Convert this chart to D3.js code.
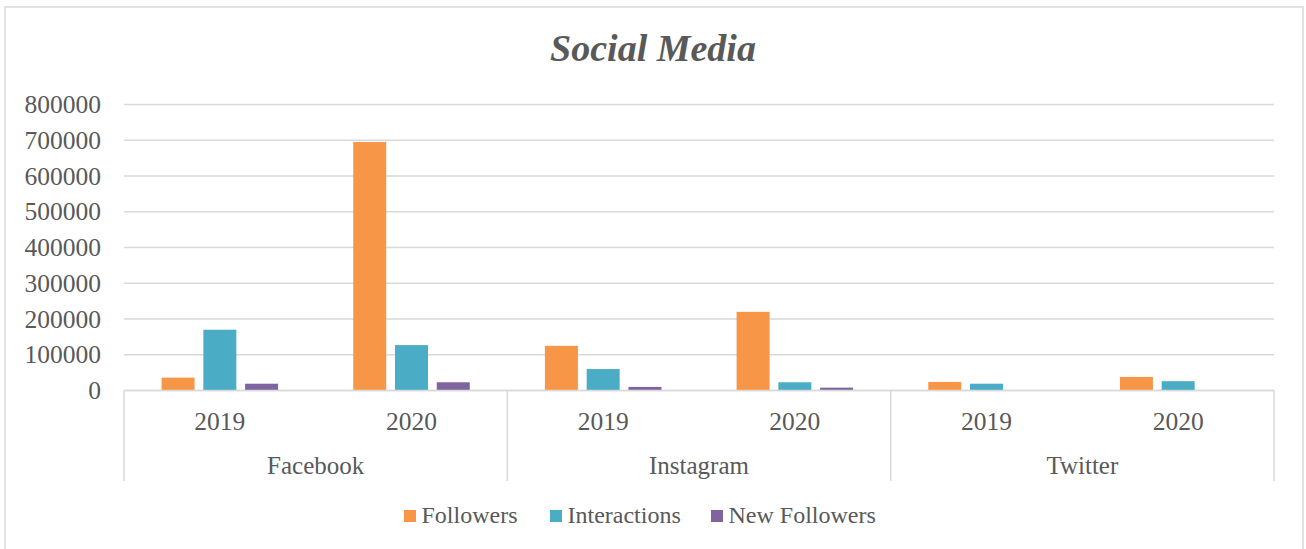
<!DOCTYPE html>
<html>
<head>
<meta charset="utf-8">
<script src="https://cdn.jsdelivr.net/npm/d3@7"></script>
<style>
  body { margin: 0; background: #fff; }
  svg { display: block; font-family: "Liberation Serif", serif; }
  .grid line { stroke: #d9d9d9; stroke-width: 1.5; }
  .label { fill: #595959; }
</style>
</head>
<body>
<div id="chart"></div>
<script>
// Data
var platforms = ["Facebook", "Instagram", "Twitter"];
var years = ["2019", "2020"];
var series = ["Followers", "Interactions", "New Followers"];
var colors = ["#f79646", "#4bacc6", "#8064a2"];
// values per series, in order FB19, FB20, IG19, IG20, TW19, TW20
var followers = [36000, 695000, 125000, 220000, 24000, 38000];
var interactions = [170000, 127000, 60000, 23000, 19000, 26000];
var newFollowers = [19000, 23000, 10000, 8000, 0, 0];
var yTicks = [0, 100000, 200000, 300000, 400000, 500000, 600000, 700000, 800000];

var W = 1306, H = 549;
var plot = { left: 124, right: 1274, top: 104.5, bottom: 390.5 };

var svg = d3.select("#chart").append("svg")
  .attr("width", W)
  .attr("height", H);

// chart frame
svg.append("rect")
  .attr("x", 5).attr("y", 7)
  .attr("width", 1298).attr("height", 560)
  .attr("fill", "#fff")
  .attr("stroke", "#d9d9d9")
  .attr("stroke-width", 1.5);

// title
svg.append("text")
  .attr("class", "label")
  .attr("x", W / 2)
  .attr("y", 61)
  .attr("text-anchor", "middle")
  .style("font-size", "38px")
  .style("font-weight", "bold")
  .style("font-style", "italic")
  .text("Social Media");

// build categories
var cats = [];
platforms.forEach(function (p) {
  years.forEach(function (yr) {
    cats.push(p + "|" + yr);
  });
});
var seriesValues = [followers, interactions, newFollowers];

var x0 = d3.scaleBand().domain(cats).range([plot.left, plot.right]);
var x1 = d3.scaleBand().domain(series).range([0, x0.bandwidth()]).paddingInner(0.21).paddingOuter(0.9);
var xp = d3.scaleBand().domain(platforms).range([plot.left, plot.right]);
var y = d3.scaleLinear().domain([0, 800000]).range([plot.bottom, plot.top]);

// gridlines
svg.append("g")
  .attr("class", "grid")
  .selectAll("line")
  .data(yTicks)
  .enter()
  .append("line")
  .attr("x1", plot.left).attr("x2", plot.right)
  .attr("y1", function (d) { return y(d); })
  .attr("y2", function (d) { return y(d); });

// y labels
svg.append("g")
  .selectAll("text")
  .data(yTicks)
  .enter()
  .append("text")
  .attr("class", "label")
  .attr("x", 101)
  .attr("y", function (d) { return y(d); })
  .attr("dy", "0.34em")
  .attr("text-anchor", "end")
  .style("font-size", "25.5px")
  .text(function (d) { return d; });

// bars
var groups = svg.append("g").selectAll("g")
  .data(cats)
  .enter()
  .append("g")
  .attr("transform", function (d) { return "translate(" + x0(d) + ",0)"; });

groups.selectAll("rect")
  .data(function (d, i) {
    return series.map(function (s, j) {
      return { s: s, v: seriesValues[j][i], c: colors[j] };
    });
  })
  .enter()
  .append("rect")
  .attr("x", function (d) { return x1(d.s); })
  .attr("width", x1.bandwidth())
  .attr("y", function (d) { return y(d.v); })
  .attr("height", function (d) { return y(0) - y(d.v); })
  .attr("fill", function (d) { return d.c; });

// axis line and group separators
var axis = svg.append("g").attr("stroke", "#d9d9d9").attr("stroke-width", 1.5);
axis.append("line")
  .attr("x1", plot.left).attr("x2", plot.right)
  .attr("y1", plot.bottom).attr("y2", plot.bottom);
axis.selectAll("line.sep")
  .data(platforms.map(function (p) { return xp(p); }).concat([plot.right]))
  .enter()
  .append("line")
  .attr("class", "sep")
  .attr("x1", function (d) { return d; })
  .attr("x2", function (d) { return d; })
  .attr("y1", plot.bottom)
  .attr("y2", 481);

// year labels
svg.append("g")
  .selectAll("text")
  .data(cats)
  .enter()
  .append("text")
  .attr("class", "label")
  .attr("x", function (d) { return x0(d) + x0.bandwidth() / 2; })
  .attr("y", 430)
  .attr("text-anchor", "middle")
  .style("font-size", "25.5px")
  .text(function (d) { return d.split("|")[1]; });

// platform labels
svg.append("g")
  .selectAll("text")
  .data(platforms)
  .enter()
  .append("text")
  .attr("class", "label")
  .attr("x", function (d) { return xp(d) + xp.bandwidth() / 2; })
  .attr("y", 474)
  .attr("text-anchor", "middle")
  .style("font-size", "25px")
  .text(function (d) { return d; });

// legend
var legendX = [404, 550, 711];
var legend = svg.append("g").selectAll("g")
  .data(series)
  .enter()
  .append("g")
  .attr("transform", function (d, i) { return "translate(" + legendX[i] + ",510)"; });
legend.append("rect")
  .attr("width", 12).attr("height", 12)
  .attr("fill", function (d, i) { return colors[i]; });
legend.append("text")
  .attr("class", "label")
  .attr("x", 17.5)
  .attr("y", 13)
  .style("font-size", "24px")
  .text(function (d) { return d; });
</script>
</body>
</html>
